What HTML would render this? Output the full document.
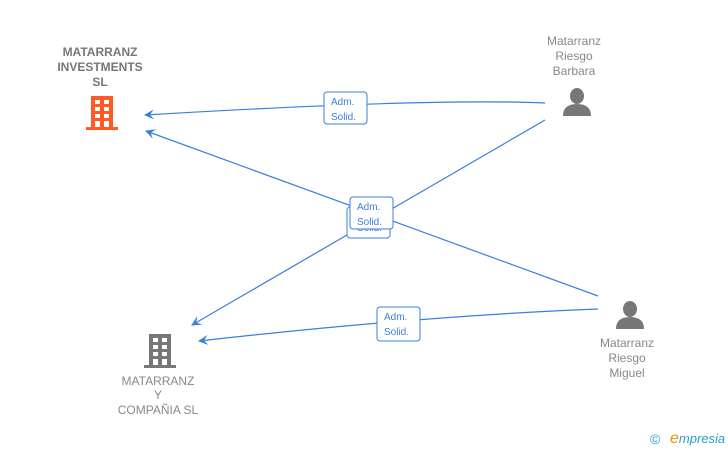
<!DOCTYPE html>
<html><head><meta charset="utf-8"><style>
body{margin:0;background:#fff;width:728px;height:450px;overflow:hidden;font-family:"Liberation Sans",sans-serif}
</style></head><body>
<svg width="728" height="450" viewBox="0 0 728 450" xmlns="http://www.w3.org/2000/svg" font-family="Liberation Sans, sans-serif">
<defs><marker id="a" markerWidth="10" markerHeight="10" refX="9" refY="5" orient="auto" markerUnits="userSpaceOnUse"><path d="M0,0 L10,5 L0,10 L4,5 Z" fill="#3a7fdc"/></marker></defs>
<g stroke="#3a7fdc" stroke-width="1.2" fill="none">
<path d="M545,103 Q430,98 145,115" marker-end="url(#a)"/>
<path d="M545,120 L192,325" marker-end="url(#a)"/>
<path d="M598,296 L146,131" marker-end="url(#a)"/>
<path d="M598,309 Q420,316 199,341" marker-end="url(#a)"/>
</g>
<g font-size="10" fill="#3a7fdc">
<rect x="347" y="207" width="43" height="31" rx="3" fill="#fff" stroke="#3a7fdc"/>
<text x="357" y="231">Solid.</text>
<rect x="324" y="92" width="43" height="32" rx="3" fill="#fff" stroke="#3a7fdc"/>
<text x="331" y="105">Adm.</text><text x="331" y="120">Solid.</text>
<rect x="350" y="197" width="43" height="32" rx="3" fill="#fff" stroke="#3a7fdc"/>
<text x="357" y="210">Adm.</text><text x="357" y="225">Solid.</text>
<rect x="377" y="307" width="43" height="34" rx="3" fill="#fff" stroke="#3a7fdc"/>
<text x="384" y="320">Adm.</text><text x="384" y="335">Solid.</text>
</g>
<g fill="#ff5a26">
<rect x="91" y="96" width="22" height="33"/><rect x="86" y="127" width="32" height="3"/>
</g>
<g fill="#fff">
<rect x="95" y="100" width="5" height="4"/><rect x="104" y="100" width="5" height="4"/>
<rect x="95" y="107" width="5" height="4"/><rect x="104" y="107" width="5" height="4"/>
<rect x="95" y="114" width="5" height="4"/><rect x="104" y="114" width="5" height="4"/>
<rect x="95" y="121" width="5" height="6"/><rect x="104" y="121" width="5" height="6"/>
</g>
<g fill="#777">
<rect x="149" y="334" width="22" height="33"/><rect x="144" y="365" width="32" height="3"/>
</g>
<g fill="#fff">
<rect x="153" y="338" width="5" height="4"/><rect x="162" y="338" width="5" height="4"/>
<rect x="153" y="345" width="5" height="4"/><rect x="162" y="345" width="5" height="4"/>
<rect x="153" y="352" width="5" height="4"/><rect x="162" y="352" width="5" height="4"/>
<rect x="153" y="359" width="5" height="6"/><rect x="162" y="359" width="5" height="6"/>
</g>
<g fill="#777">
<ellipse cx="577" cy="96" rx="7" ry="8"/><path d="M563,116 Q563,104 577,104 Q591,104 591,116 Z"/>
<ellipse cx="630" cy="309" rx="7" ry="8"/><path d="M616,329 Q616,317 630,317 Q644,317 644,329 Z"/>
</g>
<g font-size="12" font-weight="bold" fill="#777" text-anchor="middle">
<text x="100" y="56">MATARRANZ</text><text x="100" y="71">INVESTMENTS</text><text x="100" y="86">SL</text>
</g>
<g font-size="12" fill="#888" text-anchor="middle">
<text x="158" y="385">MATARRANZ</text><text x="158" y="399">Y</text><text x="158" y="414">COMPAÑIA  SL</text>
<text x="574" y="45">Matarranz</text><text x="574" y="60">Riesgo</text><text x="574" y="75">Barbara</text>
<text x="627" y="347">Matarranz</text><text x="627" y="362">Riesgo</text><text x="627" y="377">Miguel</text>
</g>
<text x="650" y="444" font-size="14" fill="#2a9fd6">©</text>
<text x="670" y="443" font-size="13" font-style="italic" fill="#2a9fd6"><tspan fill="#f39200" font-size="16">e</tspan>mpresia</text>
</svg>
</body></html>
